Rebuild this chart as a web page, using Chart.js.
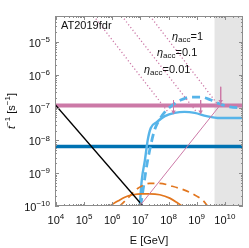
<!DOCTYPE html>
<html>
<head>
<meta charset="utf-8">
<script src="https://cdn.jsdelivr.net/npm/chart.js@4.4.1/dist/chart.umd.min.js"></script>
<style>
html, body { margin: 0; padding: 0; background: #fff; }
</style>
</head>
<body>
<canvas id="myChart" width="249" height="248"></canvas>
<script>
// axis limits and tick labels
const xRange = [9.3e3, 4.4e10]
const yRange = [1e-10, 6.2e-5]
const xTicks = [1e4, 1e5, 1e6, 1e7, 1e8, 1e9, 1e10]
const yTicks = [1e-10, 1e-9, 1e-8, 1e-7, 1e-6, 1e-5]
const shadeFrom = 4.3e9

// flat rates
const pinkLevel = 1.15e-7
const blueLevel = 6.5e-9

// black falling line
const blackE = [9.3e3, 1.23e7]
const blackRate = [1.24e-7, 1e-10]

// thin pink rising line
const pinkThinE = [9.5e6, 7.8e9]
const pinkThinRate = [1e-10, 1.38e-7]

// light blue curves
const blueSolidE = [9.5e6, 1.12e7, 1.45e7, 1.82e7, 2.34e7, 3.8e7, 7.4e7, 1.66e8, 3.7e8, 8.5e8, 2.24e9, 6.6e9, 4.4e10]
const blueSolidRate = [1e-10, 6.2e-10, 2.5e-9, 1.02e-8, 2.4e-8, 3.6e-8, 5.5e-8, 6.9e-8, 7.4e-8, 6.9e-8, 5.5e-8, 4.8e-8, 4.8e-8]
const blueDashE = [1.02e7, 1.32e7, 1.7e7, 2.34e7, 3.2e7, 4.9e7, 7.9e7, 1.41e8, 2.7e8, 6.2e8, 1.38e9, 3.2e9, 6.6e9, 1.48e10, 4.4e10]
const blueDashRate = [1e-10, 4.4e-10, 1.8e-9, 7.2e-9, 2.1e-8, 4.5e-8, 7.9e-8, 1.2e-7, 1.7e-7, 2.1e-7, 2.1e-7, 1.7e-7, 1.3e-7, 1.05e-7, 9.8e-8]

// orange curves
const orangeSolidE = [8.1e5, 1.58e6, 2.8e6, 5.4e6, 1.12e7, 2.1e7, 4.9e7, 1.1e8, 2.1e8, 2.95e8]
const orangeSolidRate = [1e-10, 1.41e-10, 1.86e-10, 2.2e-10, 2.35e-10, 2.35e-10, 2.2e-10, 1.74e-10, 1.23e-10, 1e-10]
const orangeDashE = [1.86e6, 2.8e6, 4.2e6, 6.9e6, 1.12e7, 2.1e7, 4.9e7, 1.2e8, 3.5e8, 1e9, 1.62e9, 2.45e9]
const orangeDashRate = [1e-10, 1.41e-10, 2.0e-10, 3.1e-10, 4.1e-10, 4.9e-10, 4.9e-10, 4.1e-10, 3.1e-10, 2.0e-10, 1.51e-10, 1e-10]

// acceleration lines (eta = 0.01, 0.1, 1)
const accE = [[2.2e5, 1e8], [2.2e6, 1e9], [2.2e7, 5.1e9]]
const accRate = [[6.2e-5, 7e-8], [6.2e-5, 7.2e-8], [6.2e-5, 1.38e-7]]

// arrows marking maximum energies
const arrowE = [1.5e8, 1.38e9, 7.1e9]
const arrowTop = [1.7e-7, 1.7e-7, 4.3e-7]
const arrowBottom = [7.4e-8, 7.4e-8, 1.55e-7]

const pink = '#CC79A7'
const navy = '#0072B2'
const sky = '#56B4E9'
const orange = '#E2761E'
const font = "'Liberation Sans', Arial, sans-serif"

function pts(xs, ys) {
    return xs.map((v, i) => ({x: v, y: ys[i]}))
}

function line(data, color, width, dash, extra) {
    return Object.assign({
        data: data,
        borderColor: color,
        borderWidth: width,
        borderDash: dash || [],
        pointRadius: 0,
        fill: false,
        clip: 0
    }, extra || {})
}

dataSets = []
arrowE.forEach((e, i) => {
    dataSets.push(line(pts([e, e], [arrowTop[i], arrowBottom[i]]), pink, 1, [], {
        pointRadius: [0, 2.6],
        pointStyle: 'triangle',
        rotation: 180,
        pointBackgroundColor: pink,
        pointBorderColor: pink,
        pointBorderWidth: 0
    }))
})
accE.forEach((e, i) => {
    dataSets.push(line(pts(e, accRate[i]), pink, 1.3, [1.2, 2.3]))
})
dataSets.push(line(pts(pinkThinE, pinkThinRate), pink, 1))
dataSets.push(line(pts(blackE, blackRate), '#000', 1.4))
dataSets.push(line(pts(orangeSolidE, orangeSolidRate), orange, 1.7, [], {cubicInterpolationMode: 'monotone'}))
dataSets.push(line(pts(orangeDashE, orangeDashRate), orange, 1.7, [7, 5], {cubicInterpolationMode: 'monotone'}))
dataSets.push(line(pts(blueDashE, blueDashRate), sky, 2.8, [8, 5], {cubicInterpolationMode: 'monotone'}))
dataSets.push(line(pts(blueSolidE, blueSolidRate), sky, 2.4, [], {cubicInterpolationMode: 'monotone'}))
dataSets.push(line(pts(xRange, [pinkLevel, pinkLevel]), pink, 4))
dataSets.push(line(pts(xRange, [blueLevel, blueLevel]), navy, 3.5))

function exponent(v) {
    return Math.round(Math.log10(v))
}

// text made of pieces: [text, kind]; kind is '', 'it', 'sup', 'sub'
function rich(ctx, parts, x, y, align) {
    let w = 0
    const fonts = parts.map(p => {
        const small = p[1] == 'sup' || p[1] == 'sub'
        const f = (p[1] == 'it' ? 'italic ' : '') + (small ? '8px ' : '11px ') + font
        ctx.font = f
        w += ctx.measureText(p[0]).width
        return f
    })
    let cx = align == 'center' ? x - w / 2 : align == 'right' ? x - w : x
    ctx.textAlign = 'left'
    ctx.textBaseline = 'middle'
    parts.forEach((p, i) => {
        ctx.font = fonts[i]
        const dy = p[1] == 'sup' ? -4 : p[1] == 'sub' ? 3 : 0
        ctx.fillText(p[0], cx, y + dy)
        cx += ctx.measureText(p[0]).width
    })
}

const decorations = {
    id: 'decorations',
    beforeDatasetsDraw(chart) {
        const {ctx, chartArea: a, scales: {x}} = chart
        const x0 = x.getPixelForValue(shadeFrom)
        ctx.save()
        ctx.fillStyle = '#e5e5e5'
        ctx.fillRect(x0, a.top, a.right - x0, a.bottom - a.top)
        ctx.restore()
    },
    afterDatasetsDraw(chart) {
        const {ctx, chartArea: a, scales: {x, y}} = chart
        ctx.save()
        ctx.strokeStyle = '#8c8c8c'
        ctx.lineWidth = 1
        ctx.strokeRect(a.left + 0.5, a.top + 0.5, a.right - a.left - 1, a.bottom - a.top - 1)

        // ticks on all four sides, pointing in
        ctx.beginPath()
        for (let d = -11; d <= 11; d++) {
            for (let k = 1; k <= 9; k++) {
                const v = k * Math.pow(10, d)
                const len = k == 1 ? 4 : 2
                if (v >= xRange[0] && v <= xRange[1]) {
                    const px = Math.round(x.getPixelForValue(v)) + 0.5
                    ctx.moveTo(px, a.bottom); ctx.lineTo(px, a.bottom - len)
                    ctx.moveTo(px, a.top); ctx.lineTo(px, a.top + len)
                }
                if (v >= yRange[0] && v <= yRange[1]) {
                    const py = Math.round(y.getPixelForValue(v)) + 0.5
                    ctx.moveTo(a.left, py); ctx.lineTo(a.left + len, py)
                    ctx.moveTo(a.right, py); ctx.lineTo(a.right - len, py)
                }
            }
        }
        ctx.stroke()

        ctx.fillStyle = '#111'
        xTicks.forEach(v => {
            rich(ctx, [['10', ''], [String(exponent(v)), 'sup']], x.getPixelForValue(v), a.bottom + 15, 'center')
        })
        yTicks.forEach(v => {
            rich(ctx, [['10', ''], ['\u2212' + String(-exponent(v)), 'sup']], a.left - 5, y.getPixelForValue(v) + 2, 'right')
        })

        rich(ctx, [['E [GeV]', '']], (a.left + a.right) / 2, a.bottom + 35, 'center')
        ctx.save()
        ctx.translate(12, (a.top + a.bottom) / 2)
        ctx.rotate(-Math.PI / 2)
        rich(ctx, [['t', 'it'], ['\u22121', 'sup'], [' [s', ''], ['\u22121', 'sup'], [']', '']], 0, 0, 'center')
        ctx.restore()

        rich(ctx, [['AT2019fdr', '']], a.left + 6, a.top + 10, 'left')
        rich(ctx, [['\u03b7', 'it'], ['acc', 'sub'], ['=1', '']], a.left + 117, a.top + 21, 'left')
        rich(ctx, [['\u03b7', 'it'], ['acc', 'sub'], ['=0.1', '']], a.left + 102, a.top + 37, 'left')
        rich(ctx, [['\u03b7', 'it'], ['acc', 'sub'], ['=0.01', '']], a.left + 89, a.top + 54, 'left')
        ctx.restore()
    }
}

function makeGraph() {
    const ctx = document.getElementById('myChart')
    new Chart(ctx, {
        type: 'line',
        data: {datasets: dataSets},
        options: {
            responsive: false,
            animation: false,
            layout: {padding: {left: 0, right: 6, top: 16, bottom: 0}},
            scales: {
                x: {
                    type: 'logarithmic',
                    min: xRange[0],
                    max: xRange[1],
                    grid: {display: false},
                    border: {display: false},
                    ticks: {display: false},
                    afterFit: s => { s.height = 42 }
                },
                y: {
                    type: 'logarithmic',
                    min: yRange[0],
                    max: yRange[1],
                    grid: {display: false},
                    border: {display: false},
                    ticks: {display: false},
                    afterFit: s => { s.width = 55 }
                }
            },
            plugins: {
                legend: {display: false},
                tooltip: {enabled: false}
            }
        },
        plugins: [decorations]
    })
}

makeGraph()
</script>
</body>
</html>
